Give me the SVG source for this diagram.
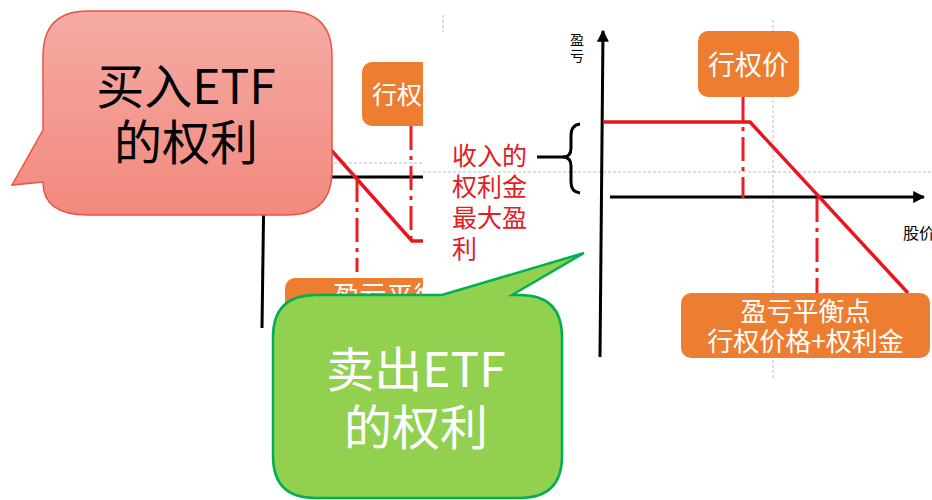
<svg xmlns="http://www.w3.org/2000/svg" width="932" height="500" viewBox="0 0 932 500">
<style>
.cjk{font-family:"Noto Sans CJK SC","Noto Sans",sans-serif}
.axis{stroke:#000;stroke-width:3;fill:none}
.pl{stroke:#e8161e;stroke-width:3.5;fill:none;stroke-linejoin:miter}
.dd{stroke:#ee1c25;stroke-width:3;fill:none;stroke-dasharray:24 6 4 6}
.grid{stroke:#bdbdbd;stroke-width:1;fill:none;stroke-dasharray:3 2}
.box{fill:#ed7d31}
.wt{fill:#fff}
</style>
<defs>
<clipPath id="leftclip"><rect x="0" y="0" width="423" height="500"/></clipPath>
<linearGradient id="pinkg" x1="0" y1="0" x2="0" y2="1">
<stop offset="0" stop-color="#f5aba4"/>
<stop offset="1" stop-color="#f2897e"/>
</linearGradient>
<marker id="arr" viewBox="0 0 10 10" refX="9" refY="5" markerWidth="4" markerHeight="4" orient="auto" markerUnits="strokeWidth">
<path d="M0,0 L10,5 L0,10 z" fill="#000"/>
</marker>
</defs>
<rect width="932" height="500" fill="#fff"/>

<g id="left-chart" clip-path="url(#leftclip)">
<line class="grid" x1="264" y1="163" x2="423" y2="163"/>
<line class="axis" x1="264" y1="180" x2="262" y2="328"/>
<line class="axis" x1="264" y1="177" x2="423" y2="177"/>
<g id="left-strike" class="cjk">
<rect class="box" x="362" y="62" width="101" height="64" rx="10"/>
<text class="wt" x="372" y="104" font-size="25">行权价</text>
</g>
<g id="left-breakeven" class="cjk">
<rect class="box" x="285" y="278" width="250" height="66" rx="10"/>
<text class="wt" x="400" y="306" font-size="27" text-anchor="middle">盈亏平衡点</text>
</g>
<g id="left-lines">
<line class="dd" x1="411" y1="126" x2="411" y2="241"/>
<line class="dd" x1="357" y1="178" x2="357" y2="272"/>
<polyline class="pl" points="300,115 412,241 423,241"/>
</g>
</g>

<g id="right-chart">
<line class="grid" x1="423" y1="172" x2="932" y2="172"/>
<line class="grid" x1="773" y1="20" x2="773" y2="378"/>
<line class="grid" x1="443" y1="15" x2="443" y2="32"/>
<g id="axes">
<line class="axis" x1="600" y1="357" x2="603" y2="31" marker-end="url(#arr)"/>
<line class="axis" x1="610" y1="197" x2="924" y2="197" marker-end="url(#arr)"/>
</g>
<text class="cjk" x="577" y="45" font-size="14" text-anchor="middle" fill="#000">盈</text>
<text class="cjk" x="577" y="61" font-size="14" text-anchor="middle" fill="#000">亏</text>
<text class="cjk" x="903" y="239" font-size="16" fill="#000">股价</text>
<g id="connectors">
<line class="dd" x1="743" y1="97" x2="743" y2="198"/>
<line class="dd" x1="817" y1="198" x2="817" y2="293"/>
<polyline class="pl" points="603,122 750,122 908,293"/>
<path class="axis" d="M580,124 Q571,125 571,136 L571,148 Q571,157 563,157 Q571,157 571,166 L571,182 Q571,192 580,193"/>
<line class="axis" x1="537" y1="157" x2="564" y2="157"/>
</g>
<g id="strike" class="cjk">
<rect class="box" x="698" y="31" width="101" height="66" rx="10"/>
<text class="wt" x="748.5" y="75" font-size="27" text-anchor="middle">行权价</text>
</g>
<g id="breakeven" class="cjk">
<rect class="box" x="681" y="293" width="249" height="65" rx="10"/>
<text class="wt" x="805.5" y="321" font-size="26" text-anchor="middle">盈亏平衡点</text>
<text class="wt" x="805.5" y="351" font-size="26" text-anchor="middle">行权价格+权利金</text>
</g>
</g>

<g id="premium-label" class="cjk" fill="#e0201f" font-size="25">
<text x="452" y="165">收入的</text>
<text x="452" y="196">权利金</text>
<text x="452" y="227">最大盈</text>
<text x="452" y="258">利</text>
</g>

<g id="buy-callout">
<path d="M88,11 L287,11 Q332,11 332,56 L332,170 Q332,215 287,215 L88,215 Q43,215 43,182 L12,185 L43,130 L43,56 Q43,11 88,11 Z" fill="url(#pinkg)" stroke="#e8553f" stroke-width="1.5"/>
<text class="cjk" x="186" y="104" font-size="48" text-anchor="middle" fill="#000">买入ETF</text>
<text class="cjk" x="186" y="160" font-size="48" text-anchor="middle" fill="#000">的权利</text>
</g>

<g id="sell-callout">
<path d="M316,295 L442,295 L584,253 L512,295 L520,295 Q562,295 562,337 L562,456 Q562,498 520,498 L315,498 Q273,498 273,456 L273,337 Q273,295 316,295 Z" fill="#92d050" stroke="#00b050" stroke-width="2.5"/>
<text class="cjk" x="416" y="387" font-size="48" text-anchor="middle" fill="#fff">卖出ETF</text>
<text class="cjk" x="416" y="445" font-size="48" text-anchor="middle" fill="#fff">的权利</text>
</g>
</svg>
